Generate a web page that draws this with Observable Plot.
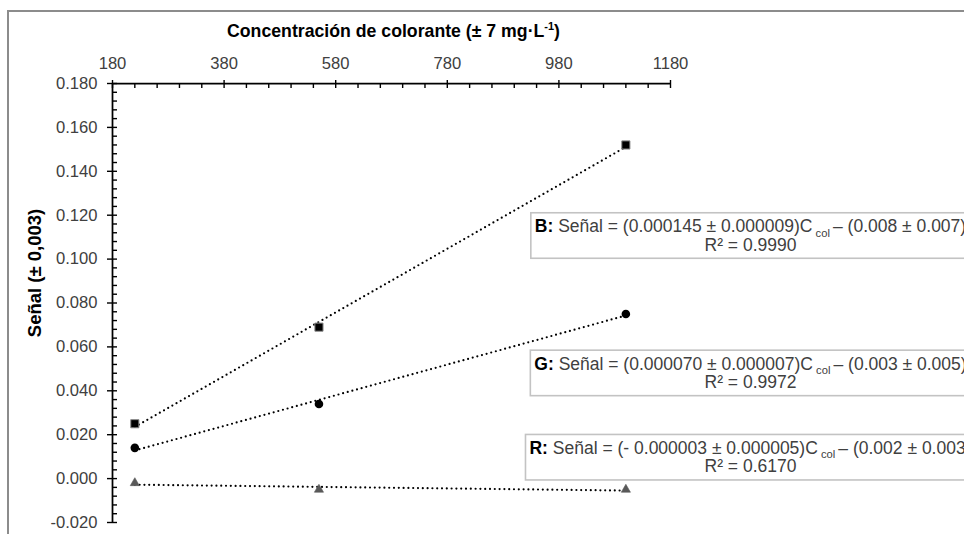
<!DOCTYPE html>
<html lang="es">
<head>
<meta charset="utf-8">
<script src="https://cdn.jsdelivr.net/npm/d3@7"></script>
<script src="https://cdn.jsdelivr.net/npm/@observablehq/plot@0.6"></script>
<style>
  html, body { margin: 0; padding: 0; background: #fff; overflow: hidden; }
  #wrap { position: relative; width: 964px; height: 534px; overflow: hidden; }
  #wrap svg { position: absolute; left: 0; top: 0; }
  #marco { position: absolute; left: 7px; top: 10px; width: 2000px; height: 2000px;
           border-left: 2px solid #8c8c8c; border-top: 2px solid #8c8c8c; pointer-events: none; }
</style>
</head>
<body>
<div id="wrap"><div id="marco"></div></div>
<script>
// Concentración de colorante de los patrones (mg·L-1)
const concentracion = [220, 550, 1100];
// Señal medida en cada canal
const senalB = [0.025, 0.069, 0.152];
const senalG = [0.014, 0.034, 0.075];
const senalR = [-0.002, -0.005, -0.005];

// Marcas principales de los ejes
const ticksX = [180, 380, 580, 780, 980, 1180];
const ticksY = [-0.02, 0, 0.02, 0.04, 0.06, 0.08, 0.1, 0.12, 0.14, 0.16, 0.18];

// Rectas de calibrado de cada canal
const canales = ["B", "G", "R"];
const pendientes = ["0.000145", "0.000070", "- 0.000003"];
const errPendientes = ["0.000009", "0.000007", "0.000005"];
const ordenadas = ["0.008", "0.003", "0.002"];
const errOrdenadas = ["0.007", "0.005", "0.003"];
const r2 = ["0.9990", "0.9972", "0.6170"];

const tituloX = "Concentración de colorante (± 7 mg·L-1)";
const tituloY = "Señal (± 0,003)";

const senales = {B: senalB, G: senalG, R: senalR};
const puntos = canales.flatMap(c => concentracion.map((x, i) => ({canal: c, c: x, s: senales[c][i]})));
const ecuaciones = canales.map((c, i) => ({
  canal: c,
  linea1: `${c}: Señal = (${pendientes[i]} ± ${errPendientes[i]})C col – (${ordenadas[i]} ± ${errOrdenadas[i]})`,
  linea2: `R² = ${r2[i]}`
}));

// Borde superior de cada recuadro de ecuación, en unidades de señal
const recuadroTop = {B: 0.1207, G: 0.0581, R: 0.0197};

const minorX = d3.range(180, 1181, 40).filter(v => !ticksX.includes(v));
const minorY = d3.range(-20, 181, 4).filter(v => v % 20 !== 0).map(v => v / 1000);

const fuente = "'Liberation Sans', Arial, Helvetica, sans-serif";
const sinTexto = () => "";

const chart = Plot.plot({
  width: 964,
  height: 534,
  marginLeft: 112,
  marginRight: 294,
  marginTop: 83,
  marginBottom: 12,
  style: {fontFamily: fuente, background: "transparent", overflow: "visible"},
  x: {domain: [180, 1180]},
  y: {domain: [-0.02, 0.18]},
  marks: [
    // marcas menores (hacia el interior)
    Plot.axisX(minorX, {anchor: "top", tickSize: 4, dy: 4, tickFormat: sinTexto, stroke: "#000", strokeWidth: 1.4, label: null}),
    Plot.axisY(minorY, {anchor: "left", tickSize: 5, dx: 5, tickFormat: sinTexto, stroke: "#000", strokeWidth: 1.4, label: null}),
    // marcas principales, cruzando el eje
    Plot.axisX(ticksX, {anchor: "top", tickSize: 8, dy: 4, tickFormat: sinTexto, stroke: "#000", strokeWidth: 1.4, label: null}),
    Plot.axisY(ticksY, {anchor: "left", tickSize: 10, dx: 5, tickFormat: sinTexto, stroke: "#000", strokeWidth: 1.4, label: null}),
    // etiquetas de las marcas
    Plot.axisX(ticksX, {anchor: "top", tickSize: 0, tickPadding: 15, tickFormat: d => String(d), fontSize: 16.6, fill: "#404040", label: null}),
    Plot.axisY(ticksY, {anchor: "left", tickSize: 0, tickPadding: 15, tickFormat: d => d.toFixed(3), fontSize: 16.6, fill: "#404040", label: null}),
    // líneas de los ejes
    Plot.ruleY([0.18], {stroke: "#000", strokeWidth: 1.75}),
    Plot.ruleX([180], {stroke: "#000", strokeWidth: 1.75}),
    // títulos de los ejes
    Plot.text([tituloX], {text: d => d, frameAnchor: "top", dx: 2, dy: -47, lineAnchor: "bottom",
      fontSize: 17.7, fontWeight: "bold", fill: "#000", ariaDescription: "titulo-x"}),
    Plot.text([tituloY], {text: d => d, frameAnchor: "left", rotate: -90, dx: -77, dy: -30,
      lineAnchor: "middle", textAnchor: "middle", fontSize: 18.5, fontWeight: "bold", fill: "#000"}),
    // rectas de regresión punteadas
    Plot.linearRegressionY(puntos, {x: "c", y: "s", z: "canal", ci: 0, stroke: "#000",
      strokeWidth: 2.2, strokeDasharray: "0,4.8", strokeLinecap: "round"}),
    // puntos experimentales
    Plot.dot(puntos.filter(d => d.canal === "R"), {x: "c", y: "s", symbol: "triangle", r: 3.4, fill: "#595959", stroke: "#595959", strokeWidth: 0.6}),
    Plot.dot(puntos.filter(d => d.canal === "G"), {x: "c", y: "s", symbol: "circle", r: 4.3, fill: "#000"}),
    Plot.dot(puntos.filter(d => d.canal === "B"), {x: "c", y: "s", symbol: "square", r: 4.6, fill: "#000", stroke: "#8c8c8c", strokeWidth: 1}),
    // ecuaciones de calibrado
    Plot.text(ecuaciones, {text: "linea1", frameAnchor: "right", y: d => recuadroTop[d.canal], dx: 80, dy: 13,
      lineAnchor: "middle", textAnchor: "middle", fontSize: 17.5, fill: "#404040", ariaDescription: "ecuacion"}),
    Plot.text(ecuaciones, {text: "linea2", frameAnchor: "right", y: d => recuadroTop[d.canal], dx: 80, dy: 31.5,
      lineAnchor: "middle", textAnchor: "middle", fontSize: 17.5, fill: "#404040", ariaDescription: "r2"})
  ]
});

const wrap = document.getElementById("wrap");
wrap.insertBefore(chart, wrap.firstChild);
const svg = d3.select(chart);

// superíndice del título del eje x
svg.select('g[aria-description="titulo-x"] text').each(function () {
  const t = d3.select(this).text(null);
  t.append("tspan").text("Concentración de colorante (± 7 mg·L");
  t.append("tspan").attr("font-size", "0.62em").attr("dy", -6.5).text("-1");
  t.append("tspan").attr("dy", 6.5).text(")");
});

// prefijo en negrita y subíndice en cada ecuación
svg.selectAll('g[aria-description="ecuacion"] text').each(function (_, k) {
  const t = d3.select(this).text(null);
  t.append("tspan").attr("font-weight", "bold").attr("fill", "#000").text(`${canales[k]}:`);
  t.append("tspan").text(` Señal = (${pendientes[k]} ± ${errPendientes[k]})C`);
  t.append("tspan").attr("font-size", "0.64em").attr("dy", 4.3).text(" col ");
  t.append("tspan").attr("dy", -4.3).text(`– (${ordenadas[k]} ± ${errOrdenadas[k]})`);
});

// recuadros alrededor de cada ecuación
const base = chart.getBoundingClientRect();
const l1 = svg.selectAll('g[aria-description="ecuacion"] text').nodes();
const l2 = svg.selectAll('g[aria-description="r2"] text').nodes();
const grupoEc = svg.select('g[aria-description="ecuacion"]').node();
const recuadros = document.createElementNS("http://www.w3.org/2000/svg", "g");
chart.insertBefore(recuadros, grupoEc);
l1.forEach((n, k) => {
  const a = n.getBoundingClientRect(), b = l2[k].getBoundingClientRect();
  const x0 = Math.min(a.left, b.left) - base.left - 4;
  const x1 = Math.max(a.right, b.right) - base.left + 4;
  const y0 = Math.min(a.top, b.top) - base.top - 3.5;
  const y1 = Math.max(a.bottom, b.bottom) - base.top + 3.5;
  d3.select(recuadros).append("rect")
    .attr("x", x0).attr("y", y0).attr("width", x1 - x0).attr("height", y1 - y0)
    .attr("fill", "#fff").attr("stroke", "#c3c3c3").attr("stroke-width", 1.6);
});
</script>
</body>
</html>
